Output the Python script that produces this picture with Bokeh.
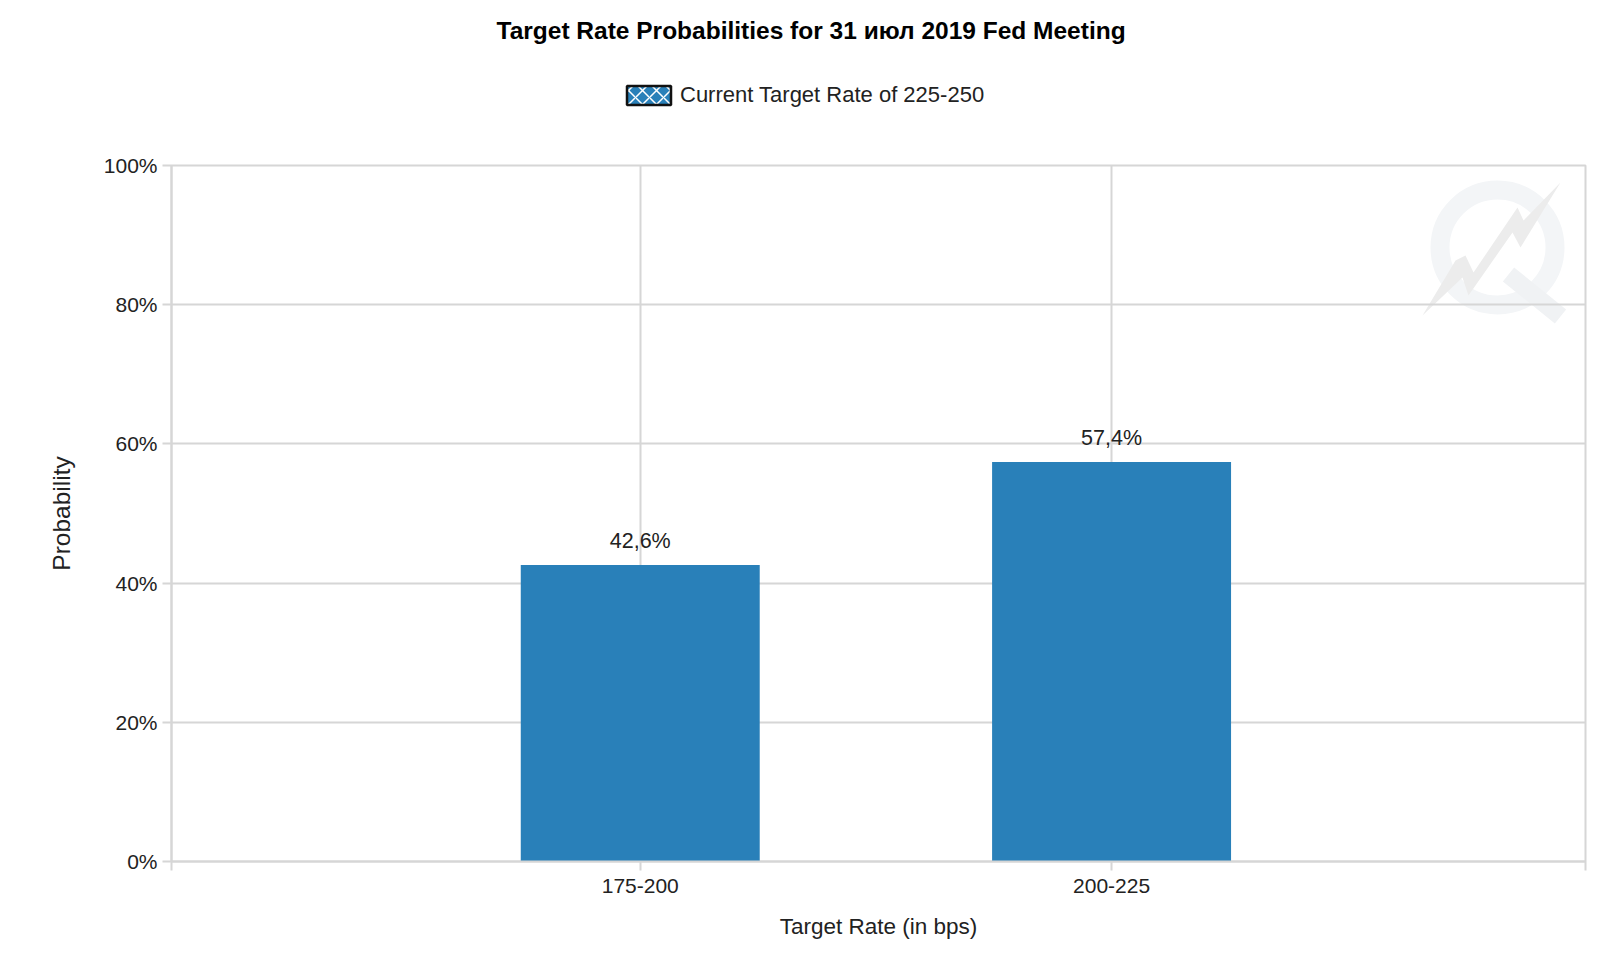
from bokeh.plotting import figure
from bokeh.layouts import column
from bokeh.core.properties import value
from bokeh.models import ColumnDataSource, FixedTicker, PrintfTickFormatter, LabelSet, Legend, LegendItem, Range1d
from bokeh.embed import file_html
from bokeh.resources import INLINE

title_text = "Target Rate Probabilities for 31 июл 2019 Fed Meeting"
legend_text = "Current Target Rate of 225-250"
categories = ["175-200", "200-225"]
values = [42.6, 57.4]
value_labels = ["42,6%", "57,4%"]
y_ticks = [0, 20, 40, 60, 80, 100]

FONT = "Liberation Sans"
TEXT = "#222222"
GRID = "#d6d6d6"
BLUE = "#2980b9"

W, H = 1602, 952
HEAD = 140
L, R, T, B = 171, 17, 165, 91

positions = [i + 1 for i in range(len(categories))]
x_start = 0.0055
x_end = len(categories) + 1 + x_start

# header strip: title and legend
head = figure(width=W, height=HEAD, output_backend="svg", toolbar_location=None,
              x_range=Range1d(0, 1), y_range=Range1d(0, 1), title=title_text,
              min_border_left=0, min_border_right=0, min_border_top=50, min_border_bottom=0,
              outline_line_color=None, background_fill_color="white", border_fill_color="white")
head.xaxis.visible = False
head.yaxis.visible = False
head.grid.visible = False
head.title.text_font = FONT
head.title.text_font_size = "24.5px"
head.title.text_font_style = "bold"
head.title.text_color = "#000000"
head.title.align = "left"
head.title.offset = 325
head.title.standoff = 13

swatch = head.vbar(x=[float("nan")], top=[float("nan")], width=0.1, fill_color=BLUE, line_color="#111111",
                   line_width=2.5, hatch_pattern="diagonal_cross", hatch_color="white",
                   hatch_scale=14, hatch_weight=1.5)
legend = Legend(items=[LegendItem(label=legend_text, renderers=[swatch])],
                location=(450, 32), orientation="horizontal", border_line_color=None,
                background_fill_alpha=0, padding=0, margin=0, glyph_width=55, glyph_height=24,
                label_standoff=4, label_text_font=FONT, label_text_font_size="22px",
                label_text_color=TEXT)
head.add_layout(legend, "center")

# main chart
p = figure(width=W, height=H - HEAD, output_backend="svg", toolbar_location=None,
           x_range=Range1d(x_start, x_end), y_range=Range1d(0, 100),
           min_border_left=L, min_border_right=R, min_border_top=T - HEAD, min_border_bottom=B,
           x_axis_label="Target Rate (in bps)", y_axis_label="Probability",
           background_fill_color="white", border_fill_color="white")

# watermark (page pixel outline converted to data space)
fw, fh = W - L - R, H - T - B
def dx(px): return x_start + (px - L) / fw * (x_end - x_start)
def dy(py): return 100 - (py - T) / fh * 100
p.scatter([dx(1497)], [dy(247)], size=115, marker="circle", fill_color=None,
          line_color="#f3f5f7", line_width=19, level="image")
p.line([dx(1508), dx(1560)], [dy(274), dy(316)], line_color="#f0f2f4", line_width=18, level="image")
bolt_x = [1560, 1520, 1512, 1468, 1462, 1422, 1455, 1465, 1473, 1517, 1523]
bolt_y = [182, 247, 232, 295, 277, 315, 260, 255, 272, 207, 220]
p.patch([dx(v) for v in bolt_x], [dy(v) for v in bolt_y], fill_color="#ececec",
        line_color=None, level="image")

# bars
src = ColumnDataSource(dict(x=positions, top=values, label=value_labels))
p.vbar(x="x", top="top", bottom=0, width=0.507, source=src, fill_color=BLUE, line_color=None)
p.add_layout(LabelSet(x="x", y="top", text="label", source=src, text_align="center",
                      text_baseline="bottom", y_offset=12, text_font=value(FONT),
                      text_font_size="21.5px", text_color=TEXT))

# axes and grid
xa, ya = p.xaxis[0], p.yaxis[0]
xa.ticker = FixedTicker(ticks=[x_start] + positions + [x_end])
xa.major_label_overrides = {x_start: "", x_end: "", **dict(zip(positions, categories))}
ya.ticker = FixedTicker(ticks=y_ticks)
ya.formatter = PrintfTickFormatter(format="%d%%")
for ax in (xa, ya):
    ax.axis_line_color = GRID
    ax.axis_line_width = 2
    ax.major_tick_line_color = GRID
    ax.major_tick_line_width = 2
    ax.major_tick_in = 0
    ax.major_tick_out = 9
    ax.minor_tick_line_color = None
    ax.major_label_text_font = FONT
    ax.major_label_text_font_size = "21px"
    ax.major_label_text_color = TEXT
    ax.axis_label_text_font = FONT
    ax.axis_label_text_font_style = "normal"
    ax.axis_label_text_color = TEXT
xa.axis_label_text_font_size = "22.5px"
ya.axis_label_text_font_size = "24.5px"
xa.major_label_standoff = 8
xa.axis_label_standoff = 18
ya.major_label_standoff = 5
ya.axis_label_standoff = 26
p.grid.grid_line_color = GRID
p.grid.grid_line_width = 2
p.outline_line_color = GRID
p.outline_line_width = 2

page = column(head, p, spacing=0)
open("out.html", "w").write(file_html(page, INLINE))
